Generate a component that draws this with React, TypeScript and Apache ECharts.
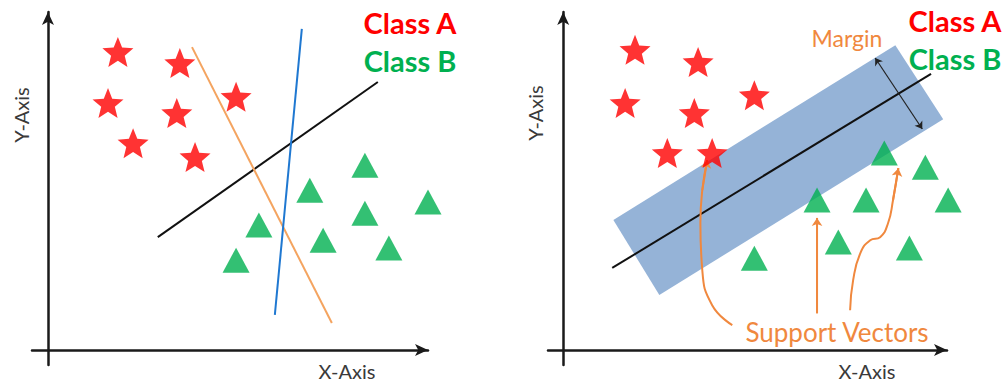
import React, { useEffect, useRef } from "react";
import * as echarts from "echarts";

// ---------- data (abstract units, origin at axis intersection) ----------
const leftStarX = [1.84, 3.47, 1.58, 4.95, 3.39, 2.24, 3.87];
const leftStarY = [8.82, 8.49, 7.31, 7.49, 7.01, 6.12, 5.71];
const leftTriX = [8.34, 6.89, 10.0, 8.34, 5.55, 7.24, 8.97, 4.95];
const leftTriY = [5.47, 4.73, 4.38, 4.05, 3.7, 3.25, 3.02, 2.66];

const leftBlackLine = [[2.89, 3.34], [8.68, 7.93]];
const leftOrangeLine = [[3.79, 8.96], [7.47, 0.8]];
const leftBlueLine = [[6.68, 9.5], [5.97, 1.04]];

const rightStarX = [1.89, 3.55, 1.63, 5.03, 3.45, 2.74, 3.92];
const rightStarY = [8.88, 8.52, 7.31, 7.54, 7.01, 5.83, 5.83];
const rightTriX = [8.45, 9.53, 6.68, 7.97, 10.13, 7.24, 9.11, 5.03];
const rightTriY = [5.83, 5.41, 4.44, 4.44, 4.44, 3.2, 3.02, 2.72];

const bandX = [1.32, 8.74, 10.0, 2.53];
const bandY = [3.85, 9.02, 6.83, 1.63];
const rightBlackLine = [[1.29, 2.43], [9.68, 8.17]];
const marginArrow = [[8.21, 8.64], [9.45, 6.54]];

const svArrow1 = [[4.45, 0.74], [3.92, 1.33], [3.66, 2.37], [3.61, 3.76], [3.66, 4.73], [3.79, 5.62]];
const svArrow2 = [[6.68, 1.09], [6.68, 3.91]];
const svArrow3 = [[7.55, 1.18], [7.63, 2.07], [7.82, 2.87], [8.08, 3.25], [8.34, 3.34], [8.55, 3.76], [8.68, 4.44], [8.82, 5.38]];

const classLabels = ["Class A", "Class B"];
const axisLabels = ["X-Axis", "Y-Axis"];

const STAR =
  "path://M50 0 L62.93 32.2 L97.55 34.55 L70.92 56.8 L79.39 90.45 L50 72 L20.61 90.45 L29.08 56.8 L2.45 34.55 L37.07 32.2 Z";
const RED = "#ff0000";
const GREEN = "#00b050";
const ORANGE = "#f0883e";
const AXIS = "#1a1a1a";
const FONT = "Lato, 'Open Sans', sans-serif";

const zip = (xs: number[], ys: number[]) => xs.map((x, i) => [x, ys[i]]);

export default function App() {
  const ref = useRef<HTMLDivElement>(null);
  useEffect(() => {
    if (!ref.current) return;
    const chart = echarts.init(ref.current, undefined, { renderer: "svg" });

    const axisCommon = {
      type: "value" as const,
      axisLine: {
        show: true,
        onZero: true,
        symbol: ["none", "arrow"],
        symbolSize: [9, 13],
        lineStyle: { color: AXIS, width: 2.5 },
      },
      axisTick: { show: false },
      axisLabel: { show: false },
      splitLine: { show: false },
    };

    const starSeries = (xi: number, d: number[][]) => ({
      type: "scatter",
      xAxisIndex: xi,
      yAxisIndex: xi,
      symbol: STAR,
      symbolSize: [31, 30],
      itemStyle: { color: RED },
      data: d,
      clip: false,
      z: 5,
    });
    const triSeries = (xi: number, d: number[][]) => ({
      type: "scatter",
      xAxisIndex: xi,
      yAxisIndex: xi,
      symbol: "triangle",
      symbolSize: [27, 25],
      itemStyle: { color: GREEN },
      data: d,
      clip: false,
      z: 5,
    });
    const lineSeries = (xi: number, d: number[][], color: string, width = 2, smooth = false) => ({
      type: "line",
      xAxisIndex: xi,
      yAxisIndex: xi,
      data: d,
      showSymbol: false,
      symbol: "none",
      smooth,
      lineStyle: { color, width },
      clip: false,
      z: 3,
    });
    const arrowSeries = (xi: number, from: number[], to: number[], color: string, width: number, both: boolean, size: number) => ({
      type: "lines",
      coordinateSystem: "cartesian2d",
      xAxisIndex: xi,
      yAxisIndex: xi,
      symbol: both ? ["arrow", "arrow"] : ["none", "arrow"],
      symbolSize: size,
      lineStyle: { color, width, opacity: 1, curveness: 0 },
      data: [{ coords: [from, to] }],
      z: 4,
    });

    const textEl = (text: string, x: number, y: number, fill: string, size: number, weight = "normal", rotation = 0, family = FONT) => ({
      type: "text",
      x,
      y,
      rotation,
      z: 10,
      style: {
        text,
        fill,
        font: `${weight} ${size}px ${family}`,
        textAlign: "center",
        textVerticalAlign: "middle",
        align: "center",
        verticalAlign: "middle",
      },
    });

    chart.setOption({
      animation: false,
      backgroundColor: "#ffffff",
      grid: [
        { left: 32, top: 12, width: 396, height: 353 },
        { left: 548, top: 12, width: 399, height: 353 },
      ],
      xAxis: [
        { ...axisCommon, gridIndex: 0, min: -0.42, max: 10 },
        { ...axisCommon, gridIndex: 1, min: -0.4, max: 10.1 },
      ],
      yAxis: [
        { ...axisCommon, gridIndex: 0, min: -0.44, max: 10 },
        { ...axisCommon, gridIndex: 1, min: -0.44, max: 10 },
      ],
      series: [
        // left panel
        lineSeries(0, leftBlackLine, "#111111"),
        lineSeries(0, leftOrangeLine, "#f4a460"),
        lineSeries(0, leftBlueLine, "#1f78d1"),
        starSeries(0, zip(leftStarX, leftStarY)),
        triSeries(0, zip(leftTriX, leftTriY)),
        // right panel
        {
          type: "custom",
          xAxisIndex: 1,
          yAxisIndex: 1,
          data: [[bandX[0], bandY[0]]],
          clip: false,
          z: 1,
          renderItem: (_p: any, api: any) => ({
            type: "polygon",
            shape: { points: bandX.map((x, i) => api.coord([x, bandY[i]])) },
            style: { fill: "#95b3d7" },
          }),
        },
        lineSeries(1, rightBlackLine, "#111111"),
        arrowSeries(1, marginArrow[0], marginArrow[1], "#222222", 1.2, true, 7),
        starSeries(1, zip(rightStarX, rightStarY)),
        triSeries(1, zip(rightTriX, rightTriY)),
        lineSeries(1, svArrow1, ORANGE, 2, true),
        arrowSeries(1, svArrow1[svArrow1.length - 2], svArrow1[svArrow1.length - 1], ORANGE, 2, false, 8),
        lineSeries(1, svArrow2, ORANGE, 2),
        arrowSeries(1, svArrow2[0], svArrow2[1], ORANGE, 2, false, 8),
        lineSeries(1, svArrow3, ORANGE, 2, true),
        arrowSeries(1, svArrow3[svArrow3.length - 2], svArrow3[svArrow3.length - 1], ORANGE, 2, false, 8),
      ],
      graphic: [
        textEl(classLabels[0], 410, 22, RED, 29, "bold"),
        textEl(classLabels[1], 410, 60, GREEN, 29, "bold"),
        textEl(classLabels[0], 955, 20, RED, 29, "bold"),
        textEl(classLabels[1], 955, 58, GREEN, 29, "bold"),
        textEl(axisLabels[1], 21, 115, "#3a3a3a", 20, "normal", Math.PI / 2),
        textEl(axisLabels[1], 535, 113, "#3a3a3a", 20, "normal", Math.PI / 2),
        textEl(axisLabels[0], 347, 371, "#3a3a3a", 20),
        textEl(axisLabels[0], 867, 371, "#3a3a3a", 20),
        textEl("Margin", 847, 38, ORANGE, 23),
        textEl("Support Vectors", 837, 332, ORANGE, 26),
      ],
    });
    return () => chart.dispose();
  }, []);

  return <div ref={ref} style={{ position: "absolute", left: 0, top: 0, width: 1008, height: 385 }} />;
}
